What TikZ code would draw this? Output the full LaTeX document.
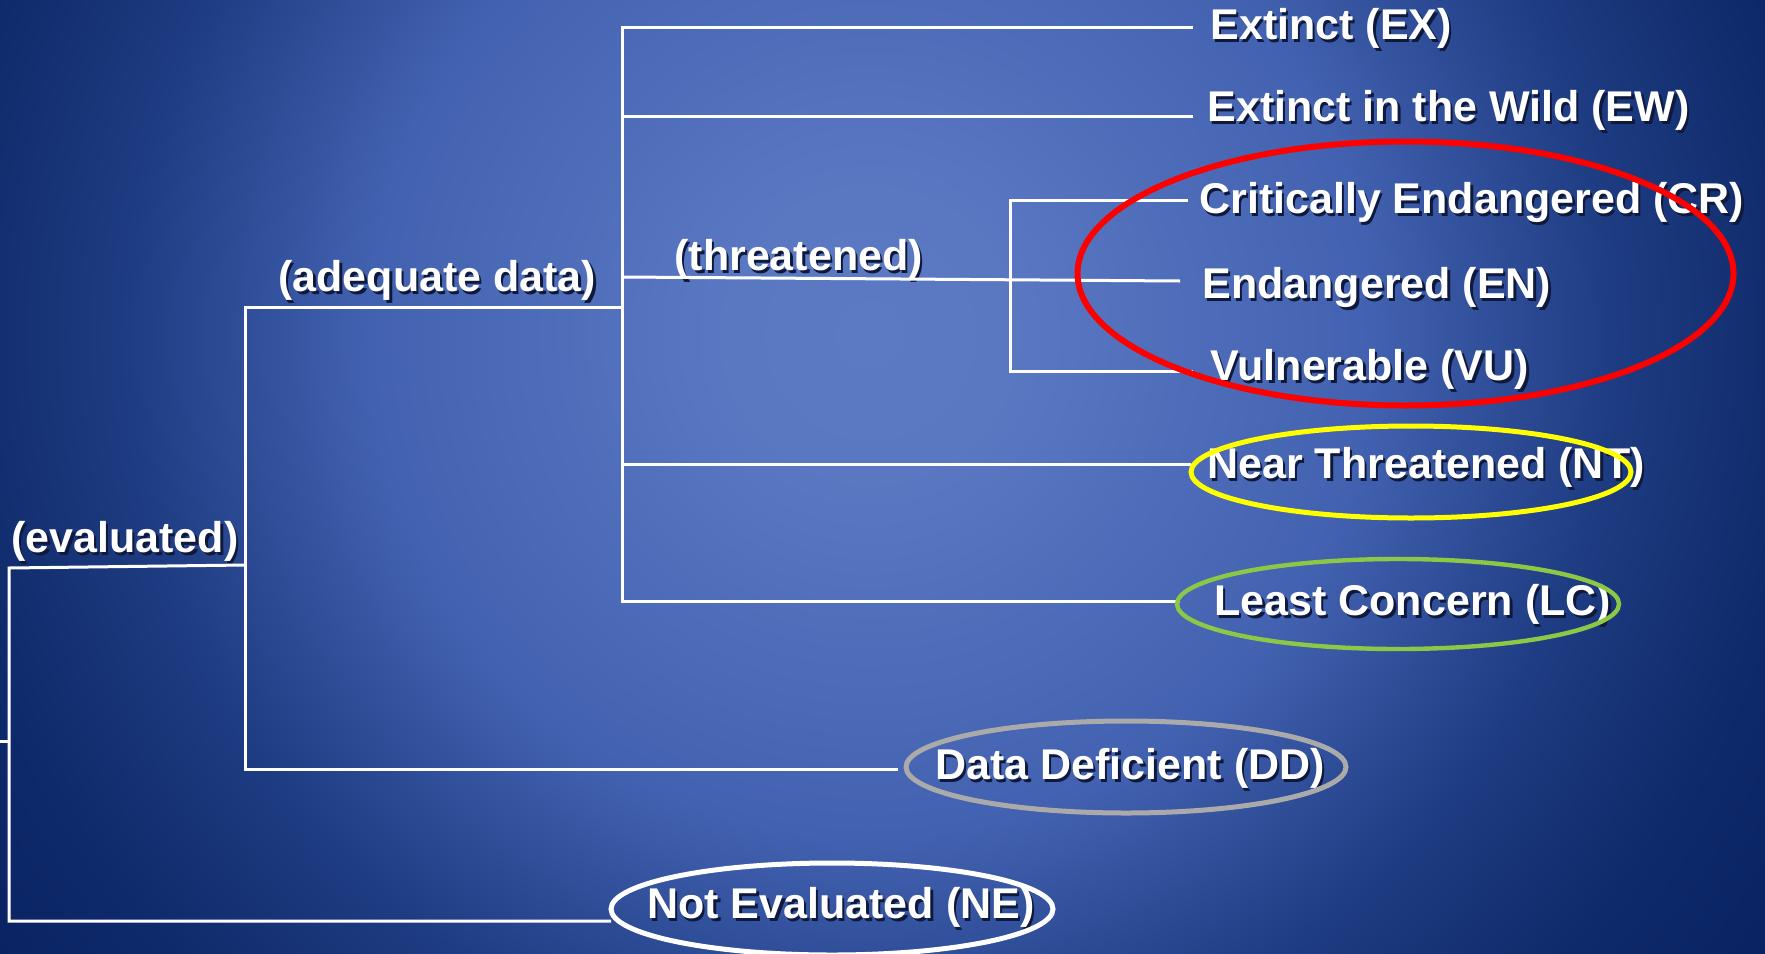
\documentclass[tikz,border=0pt]{standalone}
\usepackage{fontspec}
\setmainfont{Liberation Sans}
\definecolor{bgc0}{RGB}{92,122,196}
\definecolor{bgc1}{RGB}{90,120,194}
\definecolor{bgc2}{RGB}{66,97,176}
\definecolor{bgc3}{RGB}{30,60,130}
\definecolor{bgc4}{RGB}{15,42,106}
\definecolor{bgc5}{RGB}{8,34,98}
\definecolor{txtshadow}{RGB}{15,25,60}
\definecolor{ringred}{RGB}{255,0,0}
\definecolor{ringyellow}{RGB}{255,255,0}
\definecolor{ringgreen}{RGB}{140,200,70}
\definecolor{ringgrey}{RGB}{170,170,170}
% soft radial glow, radii given at their real size
\pgfdeclareradialshading{bgglow}{\pgfpoint{0bp}{0bp}}{color(0bp)=(bgc0); color(70bp)=(bgc1); color(250bp)=(bgc2); color(370bp)=(bgc3); color(465bp)=(bgc4); color(545bp)=(bgc5)}
\newcommand\shtxt[1]{\rlap{\kern1.2pt\raisebox{-1.2pt}{\color{txtshadow}#1}}#1}
\tikzset{
  cat/.style={text=white, font=\fontsize{21.5}{25}\selectfont\bfseries, inner sep=0pt, anchor=west},
  branch/.style={draw=white, line width=1.5pt},
  ring/.style={line width=#1},
}
\begin{document}
\begin{tikzpicture}[x=0.5pt,y=-0.5pt]
\useasboundingbox (0,0) rectangle (1765,953);
% background glow
\begin{scope}
  \clip (0,0) rectangle (1765,953);
  \fill[bgc5] (0,0) rectangle (1765,953);
  \node[inner sep=0pt] (glow) at (870,335) {\pgfuseshading{bgglow}};
\end{scope}

% category labels
\node[cat] (ex) at (1210,30)  {\shtxt{Extinct (EX)}};
\node[cat] (ew) at (1207,112) {\shtxt{Extinct in the Wild (EW)}};
\node[cat] (cr) at (1199,204) {\shtxt{Critically Endangered (CR)}};
\node[cat] (en) at (1202,289) {\shtxt{Endangered (EN)}};
\node[cat] (vu) at (1210,371) {\shtxt{Vulnerable (VU)}};
\node[cat] (nt) at (1207,469) {\shtxt{Near Threatened (NT)}};
\node[cat] (lc) at (1214,606) {\shtxt{Least Concern (LC)}};
\node[cat] (dd) at (935,770)  {\shtxt{Data Deficient (DD)}};
\node[cat] (ne) at (647,909)  {\shtxt{Not Evaluated (NE)}};

% branch labels
\node[cat] (lbleval) at (11,543)  {\shtxt{(evaluated)}};
\node[cat] (lblad)   at (278,282) {\shtxt{(adequate data)}};
\node[cat] (lblthr)  at (674,261) {\shtxt{(threatened)}};

% junctions of the tree
\coordinate (stub)   at (0,741);
\coordinate (rmid)   at (9,741);
\coordinate (rtop)   at (9,568);
\coordinate (rbot)   at (9,921);
\coordinate (evend)  at (245,565);
\coordinate (adtop)  at (245,307);
\coordinate (adbot)  at (245,769);
\coordinate (ttop)   at (622,27);
\coordinate (tew)    at (622,116);
\coordinate (tthr)   at (622,277);
\coordinate (tnt)    at (622,464);
\coordinate (tbot)   at (622,601);
\coordinate (itop)   at (1010,200);
\coordinate (ibot)   at (1010,371);

% free ends just before each label
\coordinate (exend) at ([xshift=-8.5pt]ex.west);
\coordinate (ewend) at ([xshift=-7pt]ew.west);
\coordinate (crend) at ([xshift=-5.5pt]cr.west);
\coordinate (enend) at ([xshift=-11pt,yshift=4pt]en.west);
\coordinate (vuend) at ([xshift=-8.5pt]vu.west);
\coordinate (ntend) at ([xshift=-8pt]nt.west);
\coordinate (lcend) at ([xshift=-17pt]lc.west);
\coordinate (ddend) at ([xshift=-18.5pt]dd.west);
\coordinate (neend) at ([xshift=-18pt]ne.west);

% tree lines
\draw[branch] (stub) -- (rmid);
\draw[branch] (evend) -- (rtop) -- (rbot) -- (rbot -| neend);
\draw[branch] (adtop -| tthr) -- (adtop) -- (adbot) -- (adbot -| ddend);
\draw[branch] (ttop -| exend) -- (ttop) -- (tbot) -- (tbot -| lcend);
\draw[branch] (tew) -- (tew -| ewend);
\draw[branch] (tnt) -- (tnt -| ntend);
\draw[branch] (tthr) -- (enend);
\draw[branch] (itop -| crend) -- (itop) -- (ibot) -- (ibot -| vuend);

% highlight rings
\draw[ringred, ring=3pt] (1405.5,273.5) ellipse [x radius=164pt, y radius=66pt];
\draw[ringyellow, ring=2.5pt] (1411,472) ellipse [x radius=110pt, y radius=23pt];
\draw[ringgreen, ring=2.2pt] (1398,604) ellipse [x radius=110.5pt, y radius=22.5pt];
\draw[ringgrey, ring=2.5pt] (1126,767) ellipse [x radius=110pt, y radius=23pt];
\draw[white, ring=2.5pt] (832,909) ellipse [x radius=110.5pt, y radius=23pt];
\end{tikzpicture}
\end{document}
